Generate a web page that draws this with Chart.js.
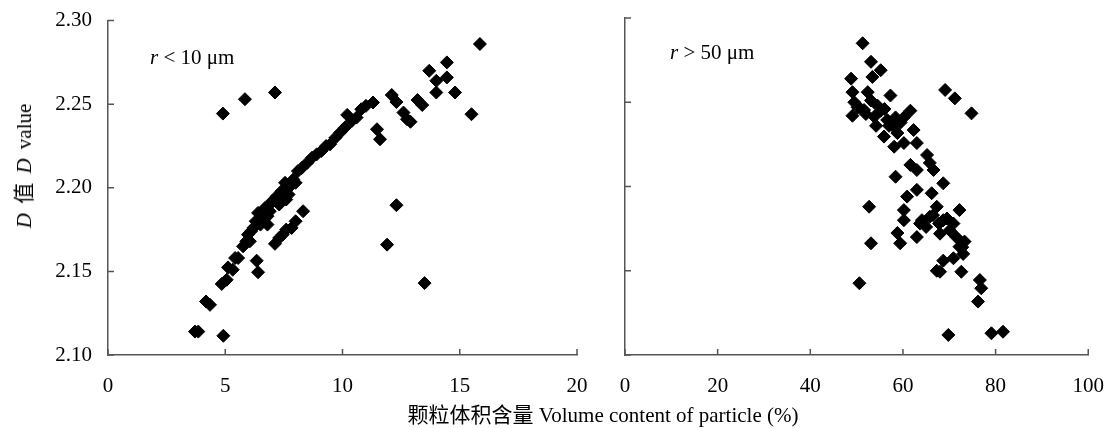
<!DOCTYPE html>
<html>
<head>
<meta charset="utf-8">
<script src="https://cdn.jsdelivr.net/npm/chart.js@4.4.1/dist/chart.umd.min.js"></script>
<style>
  body { margin: 0; background: #fff; }
  #wrap { position: relative; width: 1115px; height: 428px; overflow: hidden; font-family: "Liberation Serif", "Noto Sans CJK SC", serif; color: #000; }
  canvas { position: absolute; top: 0; }
  #c1 { left: 0; }
  #c2 { left: 600px; }
  .lbl { position: absolute; font-size: 21px; white-space: nowrap; }
  #ytitle { left: 22px; top: 166px; transform: translate(-50%, -50%) rotate(-90deg); word-spacing: 4px; }
  #xtitle { left: 603px; top: 413px; transform: translate(-50%, -50%); }
</style>
</head>
<body>
<div id="wrap">
  <canvas id="c1" width="600" height="428"></canvas>
  <canvas id="c2" width="515" height="428"></canvas>
  <div class="lbl" id="ytitle"><i>D</i> 值 <i>D</i> value</div>
  <div class="lbl" id="xtitle">颗粒体积含量 Volume content of particle (%)</div>
  <div class="lbl" style="left:150px; top:45px;"><i>r</i> &lt; 10 μm</div>
  <div class="lbl" style="left:670px; top:40px;"><i>r</i> &gt; 50 μm</div>
</div>
<script>
// r < 10 um : volume content (%) vs D
const smallX = [3.71, 3.85, 4.92, 4.18, 4.35, 4.85, 5.06, 5.12, 5.32, 5.42, 5.55, 5.76, 5.97, 6.05, 6.2, 6.34, 6.4, 6.3, 6.4, 6.5,
  6.7, 6.6, 6.8, 6.9, 7.0, 7.12, 7.3, 7.45, 7.6, 7.83, 8.0, 8.32, 7.2, 7.4, 7.55, 7.7, 7.9, 8.1, 8.26, 8.5,
  8.7, 8.9, 9.1, 9.3, 9.47, 9.7, 9.9, 10.1, 10.2, 10.4, 10.6, 10.8, 11.0, 11.3, 11.47, 11.6, 12.1, 12.3, 12.75, 12.9,
  12.6, 13.2, 13.4, 13.7, 14.0, 14.0, 14.45, 14.45, 14.8, 15.86, 15.5, 12.3, 11.9, 13.5, 4.9, 5.84, 7.12,
  6.1, 6.5, 6.9, 7.3, 7.7, 8.0, 6.8, 5.9, 7.6];
const smallD = [2.114, 2.114, 2.1115, 2.132, 2.130, 2.1425, 2.145, 2.1524, 2.151, 2.158, 2.158, 2.165, 2.172, 2.168, 2.176, 2.1564, 2.1495, 2.180, 2.185, 2.178,
  2.188, 2.182, 2.183, 2.190, 2.192, 2.1665, 2.170, 2.172, 2.175, 2.176, 2.180, 2.186, 2.195, 2.198, 2.203, 2.200, 2.205, 2.210, 2.2118, 2.215,
  2.218, 2.220, 2.222, 2.225, 2.226, 2.230, 2.233, 2.236, 2.2436, 2.240, 2.242, 2.247, 2.249, 2.251, 2.235, 2.229, 2.2555, 2.2513, 2.241, 2.2395,
  2.245, 2.2525, 2.2495, 2.270, 2.264, 2.257, 2.275, 2.266, 2.257, 2.286, 2.244, 2.1896, 2.166, 2.143, 2.2444, 2.253, 2.257,
  2.174, 2.184, 2.186, 2.190, 2.196, 2.203, 2.178, 2.168, 2.193];

// r > 50 um
const largeX = [51.3, 53.1, 55.2, 53.4, 48.8, 49.1, 49.5, 49.1, 52.4, 53.1, 53.8, 51.6, 57.3, 55.2, 56.6, 58.4, 60.2, 61.6, 55.9, 58.8,
  58.1, 60.2, 62.3, 63.0, 65.2, 65.8, 61.6, 63.0, 66.6, 58.4, 68.7, 63.0, 60.9, 66.2, 52.7, 60.2, 60.2, 63.7, 65.8, 67.3,
  68.7, 70.1, 72.2, 58.8, 59.4, 63.0, 53.1, 72.2, 68.7, 67.3, 50.6, 64.1, 70.9, 73.3, 73.0, 70.9, 68.0, 72.6, 76.6, 76.9,
  76.2, 69.8, 79.1, 81.6, 69.1, 71.2, 74.8, 54.5, 50.2, 57.0,
  66.5, 67.8, 69.5, 65.0, 68.0, 71.5, 72.8, 50.5, 52.0, 54.2, 56.0, 57.8, 59.5];
const largeD = [2.285, 2.274, 2.269, 2.265, 2.264, 2.256, 2.250, 2.242, 2.256, 2.251, 2.2414, 2.2454, 2.254, 2.245, 2.2395, 2.241, 2.241, 2.245, 2.2296, 2.2317,
  2.2236, 2.2258, 2.2335, 2.2258, 2.2187, 2.214, 2.2128, 2.2098, 2.2098, 2.2058, 2.2019, 2.198, 2.194, 2.196, 2.188, 2.186, 2.180, 2.178, 2.182, 2.188,
  2.180, 2.174, 2.186, 2.1724, 2.1663, 2.170, 2.1663, 2.1643, 2.156, 2.150, 2.1426, 2.180, 2.178, 2.1673, 2.160, 2.1574, 2.1494, 2.1494, 2.1445, 2.1396,
  2.1317, 2.1119, 2.1129, 2.1138, 2.2573, 2.2523, 2.2434, 2.248, 2.247, 2.236,
  2.183, 2.178, 2.181, 2.176, 2.172, 2.170, 2.164, 2.247, 2.243, 2.236, 2.246, 2.236, 2.238];

const yTicks = [2.10, 2.15, 2.20, 2.25, 2.30];
const xTicksSmall = [0, 5, 10, 15, 20];
const xTicksLarge = [0, 20, 40, 60, 80, 100];

const FONT = { family: '"Liberation Serif", serif', size: 21 };
const AXIS = '#555';

// short ticks pointing into the plot
const innerTicks = {
  id: 'innerTicks',
  afterDraw(chart) {
    const { ctx, chartArea: a, scales: { x, y } } = chart;
    ctx.save();
    ctx.strokeStyle = AXIS;
    ctx.lineWidth = 1.5;
    ctx.beginPath();
    x.ticks.forEach(t => { const px = x.getPixelForValue(t.value); ctx.moveTo(px, a.bottom); ctx.lineTo(px, a.bottom - 6); });
    y.ticks.forEach(t => { const py = y.getPixelForValue(t.value); ctx.moveTo(a.left, py); ctx.lineTo(a.left + 6, py); });
    ctx.stroke();
    ctx.restore();
  }
};

function makeChart(id, xs, ys, xTicks, xMax, yWidth, padRight, showY) {
  return new Chart(document.getElementById(id), {
    type: 'scatter',
    data: {
      datasets: [{
        data: xs.map((v, i) => ({ x: v, y: ys[i] })),
        pointStyle: 'rectRot',
        pointRadius: 6.5,
        pointHoverRadius: 6.5,
        backgroundColor: '#000',
        borderColor: '#000',
        borderWidth: 1
      }]
    },
    options: {
      responsive: false,
      animation: false,
      devicePixelRatio: 1,
      layout: { padding: { top: 18, right: padRight, bottom: 33, left: 0 } },
      plugins: { legend: { display: false }, tooltip: { enabled: false } },
      scales: {
        x: {
          type: 'linear', min: 0, max: xMax,
          afterBuildTicks: s => { s.ticks = xTicks.map(v => ({ value: v })); },
          afterFit: s => { s.height = 40; },
          grid: { display: false },
          border: { display: true, color: AXIS, width: 1.5 },
          ticks: { color: '#000', font: FONT, padding: 11, maxRotation: 0 }
        },
        y: {
          type: 'linear', min: 2.10, max: 2.30,
          afterBuildTicks: s => { s.ticks = yTicks.map(v => ({ value: v })); },
          afterFit: s => { s.width = yWidth; },
          grid: { display: false },
          border: { display: true, color: AXIS, width: 1.5 },
          ticks: { display: showY, color: '#000', font: FONT, padding: 8, callback: v => v.toFixed(2) }
        }
      }
    },
    plugins: [innerTicks]
  });
}

makeChart('c1', smallX, smallD, xTicksSmall, 20, 108, 23, true);
makeChart('c2', largeX, largeD, xTicksLarge, 100, 25, 22, false);
</script>
</body>
</html>
